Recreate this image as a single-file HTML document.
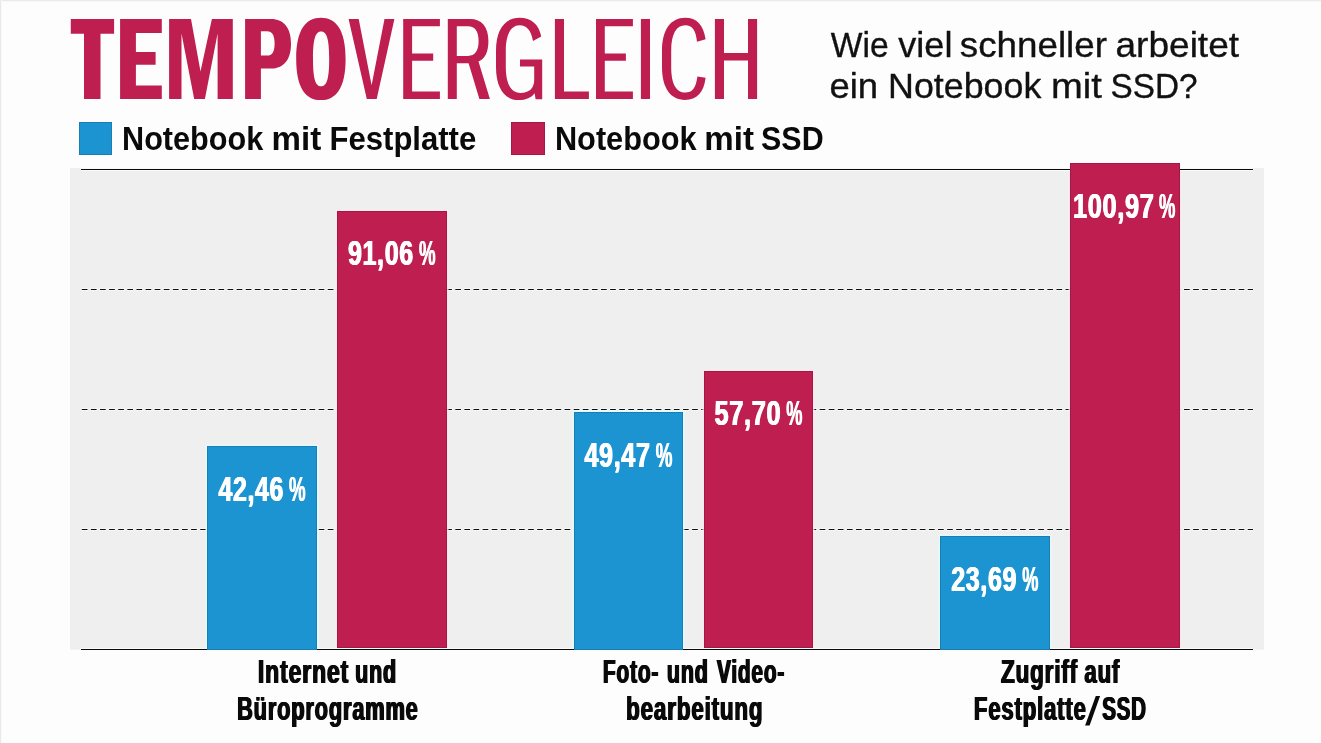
<!DOCTYPE html>
<html><head><meta charset="utf-8"><title>Tempovergleich</title>
<style>
html,body{margin:0;padding:0;background:#fdfdfd;}
body{width:1321px;height:743px;overflow:hidden;font-family:"Liberation Sans",sans-serif;}
svg{display:block;will-change:transform;font-family:"Liberation Sans",sans-serif;}
text{white-space:pre;}
</style></head><body>
<h1 style="position:absolute;left:-9999px;top:0;margin:0">TEMPOVERGLEICH</h1>
<svg width="1321" height="743" viewBox="0 0 1321 743">
<rect x="0" y="0" width="1321" height="743" fill="#fdfdfd"/>
<rect x="0" y="0" width="1321" height="1" fill="#ebebeb"/>
<rect x="0" y="1" width="1321" height="1" fill="#f7f7f7"/>
<rect x="0" y="0" width="1" height="743" fill="#e9e9e9"/>
<rect x="1" y="0" width="1" height="743" fill="#f8f8f8"/>
<rect x="70" y="168" width="1194" height="481.6" fill="#efefef"/>
<line x1="81.3" x2="1253" y1="289.5" y2="289.5" stroke="#fbfbfb" stroke-opacity=".75" stroke-width="3" stroke-dasharray="6.7 2.409"/>
<line x1="81.8" x2="1253" y1="289.5" y2="289.5" stroke="#0d0d0d" stroke-width="1" stroke-dasharray="5.7 3.409"/>
<line x1="81.3" x2="1253" y1="409.5" y2="409.5" stroke="#fbfbfb" stroke-opacity=".75" stroke-width="3" stroke-dasharray="6.7 2.409"/>
<line x1="81.8" x2="1253" y1="409.5" y2="409.5" stroke="#0d0d0d" stroke-width="1" stroke-dasharray="5.7 3.409"/>
<line x1="81.3" x2="1253" y1="529.5" y2="529.5" stroke="#fbfbfb" stroke-opacity=".75" stroke-width="3" stroke-dasharray="6.7 2.409"/>
<line x1="81.8" x2="1253" y1="529.5" y2="529.5" stroke="#0d0d0d" stroke-width="1" stroke-dasharray="5.7 3.409"/>
<rect x="205.5" y="444.5" width="113" height="204.5" fill="#e4fbff" fill-opacity=".8"/>
<rect x="335.5" y="209.5" width="113" height="439.5" fill="#fde7f0" fill-opacity=".8"/>
<rect x="572.5" y="410.5" width="112" height="238.5" fill="#e4fbff" fill-opacity=".8"/>
<rect x="702.5" y="369.5" width="112" height="279.5" fill="#fde7f0" fill-opacity=".8"/>
<rect x="938.5" y="534.5" width="113" height="114.5" fill="#e4fbff" fill-opacity=".8"/>
<rect x="1068.5" y="168" width="113" height="481.0" fill="#fde7f0" fill-opacity=".8"/>
<rect x="81" y="168" width="1172" height="3" fill="#fbfbfb" fill-opacity=".85"/>
<rect x="81" y="169" width="1172" height="1" fill="#0a0a0a"/>
<rect x="81" y="648" width="1172" height="2" fill="#fbfbfb" fill-opacity=".85"/>
<rect x="81" y="649" width="1172" height="1" fill="#0a0a0a"/>
<rect x="207" y="446" width="110" height="204" fill="#1c94d2"/>
<rect x="207.5" y="446.5" width="109" height="203" fill="none" stroke="#000" stroke-opacity=".14" stroke-width="1"/>
<rect x="337" y="211" width="110" height="437" fill="#be1e50"/>
<rect x="337.5" y="211.5" width="109" height="436" fill="none" stroke="#000" stroke-opacity=".14" stroke-width="1"/>
<rect x="574" y="412" width="109" height="238" fill="#1c94d2"/>
<rect x="574.5" y="412.5" width="108" height="237" fill="none" stroke="#000" stroke-opacity=".14" stroke-width="1"/>
<rect x="704" y="371" width="109" height="277" fill="#be1e50"/>
<rect x="704.5" y="371.5" width="108" height="276" fill="none" stroke="#000" stroke-opacity=".14" stroke-width="1"/>
<rect x="940" y="536" width="110" height="114" fill="#1c94d2"/>
<rect x="940.5" y="536.5" width="109" height="113" fill="none" stroke="#000" stroke-opacity=".14" stroke-width="1"/>
<rect x="1070" y="163" width="110" height="485" fill="#be1e50"/>
<rect x="1070.5" y="163.5" width="109" height="484" fill="none" stroke="#000" stroke-opacity=".14" stroke-width="1"/>
<text transform="translate(217.93,500.70) scale(0.7274,1)" font-size="34.18" font-weight="bold" fill="#fff" letter-spacing="0.9">42,46</text>
<text transform="translate(218.43,500.70) scale(0.7274,1)" font-size="34.18" font-weight="bold" fill="#fff" letter-spacing="0.9">42,46</text>
<text transform="translate(218.93,500.70) scale(0.7274,1)" font-size="34.18" font-weight="bold" fill="#fff" letter-spacing="0.9">42,46</text>
<text transform="translate(288.46,500.70) scale(0.5368,1)" font-size="34.18" font-weight="normal" fill="#fff">%</text>
<text transform="translate(289.06,500.70) scale(0.5368,1)" font-size="34.18" font-weight="normal" fill="#fff">%</text>
<text transform="translate(289.66,500.70) scale(0.5368,1)" font-size="34.18" font-weight="normal" fill="#fff">%</text>
<text transform="translate(347.42,264.50) scale(0.7332,1)" font-size="34.18" font-weight="bold" fill="#fff" letter-spacing="0.9">91,06</text>
<text transform="translate(347.92,264.50) scale(0.7332,1)" font-size="34.18" font-weight="bold" fill="#fff" letter-spacing="0.9">91,06</text>
<text transform="translate(348.42,264.50) scale(0.7332,1)" font-size="34.18" font-weight="bold" fill="#fff" letter-spacing="0.9">91,06</text>
<text transform="translate(418.46,264.50) scale(0.5368,1)" font-size="34.18" font-weight="normal" fill="#fff">%</text>
<text transform="translate(419.06,264.50) scale(0.5368,1)" font-size="34.18" font-weight="normal" fill="#fff">%</text>
<text transform="translate(419.66,264.50) scale(0.5368,1)" font-size="34.18" font-weight="normal" fill="#fff">%</text>
<text transform="translate(583.92,466.50) scale(0.7342,1)" font-size="34.18" font-weight="bold" fill="#fff" letter-spacing="0.9">49,47</text>
<text transform="translate(584.42,466.50) scale(0.7342,1)" font-size="34.18" font-weight="bold" fill="#fff" letter-spacing="0.9">49,47</text>
<text transform="translate(584.92,466.50) scale(0.7342,1)" font-size="34.18" font-weight="bold" fill="#fff" letter-spacing="0.9">49,47</text>
<text transform="translate(655.25,466.50) scale(0.5404,1)" font-size="34.18" font-weight="normal" fill="#fff">%</text>
<text transform="translate(655.85,466.50) scale(0.5404,1)" font-size="34.18" font-weight="normal" fill="#fff">%</text>
<text transform="translate(656.45,466.50) scale(0.5404,1)" font-size="34.18" font-weight="normal" fill="#fff">%</text>
<text transform="translate(713.94,425.40) scale(0.7424,1)" font-size="34.18" font-weight="bold" fill="#fff" letter-spacing="0.9">57,70</text>
<text transform="translate(714.44,425.40) scale(0.7424,1)" font-size="34.18" font-weight="bold" fill="#fff" letter-spacing="0.9">57,70</text>
<text transform="translate(714.94,425.40) scale(0.7424,1)" font-size="34.18" font-weight="bold" fill="#fff" letter-spacing="0.9">57,70</text>
<text transform="translate(785.77,425.40) scale(0.5225,1)" font-size="34.18" font-weight="normal" fill="#fff">%</text>
<text transform="translate(786.37,425.40) scale(0.5225,1)" font-size="34.18" font-weight="normal" fill="#fff">%</text>
<text transform="translate(786.97,425.40) scale(0.5225,1)" font-size="34.18" font-weight="normal" fill="#fff">%</text>
<text transform="translate(950.72,590.70) scale(0.7320,1)" font-size="34.18" font-weight="bold" fill="#fff" letter-spacing="0.9">23,69</text>
<text transform="translate(951.22,590.70) scale(0.7320,1)" font-size="34.18" font-weight="bold" fill="#fff" letter-spacing="0.9">23,69</text>
<text transform="translate(951.72,590.70) scale(0.7320,1)" font-size="34.18" font-weight="bold" fill="#fff" letter-spacing="0.9">23,69</text>
<text transform="translate(1021.77,590.70) scale(0.5225,1)" font-size="34.18" font-weight="normal" fill="#fff">%</text>
<text transform="translate(1022.37,590.70) scale(0.5225,1)" font-size="34.18" font-weight="normal" fill="#fff">%</text>
<text transform="translate(1022.97,590.70) scale(0.5225,1)" font-size="34.18" font-weight="normal" fill="#fff">%</text>
<text transform="translate(1072.62,217.70) scale(0.7408,1)" font-size="34.18" font-weight="bold" fill="#fff" letter-spacing="0.9">100,97</text>
<text transform="translate(1073.12,217.70) scale(0.7408,1)" font-size="34.18" font-weight="bold" fill="#fff" letter-spacing="0.9">100,97</text>
<text transform="translate(1073.62,217.70) scale(0.7408,1)" font-size="34.18" font-weight="bold" fill="#fff" letter-spacing="0.9">100,97</text>
<text transform="translate(1158.47,217.70) scale(0.5296,1)" font-size="34.18" font-weight="normal" fill="#fff">%</text>
<text transform="translate(1159.07,217.70) scale(0.5296,1)" font-size="34.18" font-weight="normal" fill="#fff">%</text>
<text transform="translate(1159.67,217.70) scale(0.5296,1)" font-size="34.18" font-weight="normal" fill="#fff">%</text>
<text transform="translate(257.25,682.80) scale(0.6753,1)" font-size="34.04" font-weight="bold" fill="#0a0a0a" letter-spacing="1.3">Internet</text>
<text transform="translate(257.90,682.80) scale(0.6753,1)" font-size="34.04" font-weight="bold" fill="#0a0a0a" letter-spacing="1.3">Internet</text>
<text transform="translate(258.55,682.80) scale(0.6753,1)" font-size="34.04" font-weight="bold" fill="#0a0a0a" letter-spacing="1.3">Internet</text>
<text transform="translate(354.46,682.80) scale(0.6317,1)" font-size="34.04" font-weight="bold" fill="#0a0a0a" letter-spacing="1.3">und</text>
<text transform="translate(355.11,682.80) scale(0.6317,1)" font-size="34.04" font-weight="bold" fill="#0a0a0a" letter-spacing="1.3">und</text>
<text transform="translate(355.76,682.80) scale(0.6317,1)" font-size="34.04" font-weight="bold" fill="#0a0a0a" letter-spacing="1.3">und</text>
<text transform="translate(236.43,719.60) scale(0.6403,1)" font-size="34.04" font-weight="bold" fill="#0a0a0a" letter-spacing="1.3">Büroprogramme</text>
<text transform="translate(237.08,719.60) scale(0.6403,1)" font-size="34.04" font-weight="bold" fill="#0a0a0a" letter-spacing="1.3">Büroprogramme</text>
<text transform="translate(237.73,719.60) scale(0.6403,1)" font-size="34.04" font-weight="bold" fill="#0a0a0a" letter-spacing="1.3">Büroprogramme</text>
<text transform="translate(602.19,682.80) scale(0.6159,1)" font-size="34.04" font-weight="bold" fill="#0a0a0a" letter-spacing="1.3">Foto-</text>
<text transform="translate(602.84,682.80) scale(0.6159,1)" font-size="34.04" font-weight="bold" fill="#0a0a0a" letter-spacing="1.3">Foto-</text>
<text transform="translate(603.49,682.80) scale(0.6159,1)" font-size="34.04" font-weight="bold" fill="#0a0a0a" letter-spacing="1.3">Foto-</text>
<text transform="translate(666.26,682.80) scale(0.6300,1)" font-size="34.04" font-weight="bold" fill="#0a0a0a" letter-spacing="1.3">und</text>
<text transform="translate(666.91,682.80) scale(0.6300,1)" font-size="34.04" font-weight="bold" fill="#0a0a0a" letter-spacing="1.3">und</text>
<text transform="translate(667.56,682.80) scale(0.6300,1)" font-size="34.04" font-weight="bold" fill="#0a0a0a" letter-spacing="1.3">und</text>
<text transform="translate(716.34,682.80) scale(0.6124,1)" font-size="34.04" font-weight="bold" fill="#0a0a0a" letter-spacing="1.3">Video-</text>
<text transform="translate(716.99,682.80) scale(0.6124,1)" font-size="34.04" font-weight="bold" fill="#0a0a0a" letter-spacing="1.3">Video-</text>
<text transform="translate(717.64,682.80) scale(0.6124,1)" font-size="34.04" font-weight="bold" fill="#0a0a0a" letter-spacing="1.3">Video-</text>
<text transform="translate(625.55,719.60) scale(0.6565,1)" font-size="34.04" font-weight="bold" fill="#0a0a0a" letter-spacing="1.3">bearbeitung</text>
<text transform="translate(626.20,719.60) scale(0.6565,1)" font-size="34.04" font-weight="bold" fill="#0a0a0a" letter-spacing="1.3">bearbeitung</text>
<text transform="translate(626.85,719.60) scale(0.6565,1)" font-size="34.04" font-weight="bold" fill="#0a0a0a" letter-spacing="1.3">bearbeitung</text>
<text transform="translate(1000.33,682.80) scale(0.6597,1)" font-size="34.04" font-weight="bold" fill="#0a0a0a" letter-spacing="1.3">Zugriff</text>
<text transform="translate(1000.98,682.80) scale(0.6597,1)" font-size="34.04" font-weight="bold" fill="#0a0a0a" letter-spacing="1.3">Zugriff</text>
<text transform="translate(1001.63,682.80) scale(0.6597,1)" font-size="34.04" font-weight="bold" fill="#0a0a0a" letter-spacing="1.3">Zugriff</text>
<text transform="translate(1083.74,682.80) scale(0.6506,1)" font-size="34.04" font-weight="bold" fill="#0a0a0a" letter-spacing="1.3">auf</text>
<text transform="translate(1084.39,682.80) scale(0.6506,1)" font-size="34.04" font-weight="bold" fill="#0a0a0a" letter-spacing="1.3">auf</text>
<text transform="translate(1085.04,682.80) scale(0.6506,1)" font-size="34.04" font-weight="bold" fill="#0a0a0a" letter-spacing="1.3">auf</text>
<text transform="translate(973.31,719.60) scale(0.6490,1)" font-size="34.04" font-weight="bold" fill="#0a0a0a" letter-spacing="1.3">Festplatte</text>
<text transform="translate(973.96,719.60) scale(0.6490,1)" font-size="34.04" font-weight="bold" fill="#0a0a0a" letter-spacing="1.3">Festplatte</text>
<text transform="translate(974.61,719.60) scale(0.6490,1)" font-size="34.04" font-weight="bold" fill="#0a0a0a" letter-spacing="1.3">Festplatte</text>
<text transform="translate(1101.58,719.60) scale(0.6029,1)" font-size="34.04" font-weight="bold" fill="#0a0a0a" letter-spacing="1.3">SSD</text>
<text transform="translate(1102.23,719.60) scale(0.6029,1)" font-size="34.04" font-weight="bold" fill="#0a0a0a" letter-spacing="1.3">SSD</text>
<text transform="translate(1102.88,719.60) scale(0.6029,1)" font-size="34.04" font-weight="bold" fill="#0a0a0a" letter-spacing="1.3">SSD</text>
<path fill="#0a0a0a" d="M1085.1,725.6 L1089.6,725.6 L1100.1,695.9 L1095.8,695.9Z"/>
<rect x="79" y="122" width="33" height="33" fill="#1c94d2"/>
<rect x="79.5" y="122.5" width="32" height="32" fill="none" stroke="#000" stroke-opacity=".14" stroke-width="1"/>
<rect x="511" y="122" width="34" height="33" fill="#be1e50"/>
<rect x="511.5" y="122.5" width="33" height="32" fill="none" stroke="#000" stroke-opacity=".14" stroke-width="1"/>
<text transform="translate(122.03,149.60) scale(0.9037,1)" font-size="33.89" font-weight="bold" fill="#0a0a0a">Notebook</text>
<text transform="translate(271.55,149.60) scale(0.9770,1)" font-size="33.89" font-weight="bold" fill="#0a0a0a">mit</text>
<text transform="translate(329.50,149.60) scale(0.9173,1)" font-size="33.89" font-weight="bold" fill="#0a0a0a">Festplatte</text>
<text transform="translate(554.93,149.60) scale(0.9069,1)" font-size="33.89" font-weight="bold" fill="#0a0a0a">Notebook</text>
<text transform="translate(704.25,149.60) scale(0.9770,1)" font-size="33.89" font-weight="bold" fill="#0a0a0a">mit</text>
<text transform="translate(761.09,149.60) scale(0.8978,1)" font-size="33.89" font-weight="bold" fill="#0a0a0a">SSD</text>
<text transform="translate(830.81,56.60) scale(0.9555,1)" font-size="35.20" font-weight="normal" fill="#111" stroke="#111" stroke-width="0.35" stroke-linejoin="round">Wie</text>
<text transform="translate(898.29,56.60) scale(1.0259,1)" font-size="35.20" font-weight="normal" fill="#111" stroke="#111" stroke-width="0.35" stroke-linejoin="round">viel</text>
<text transform="translate(959.86,56.60) scale(1.0442,1)" font-size="35.20" font-weight="normal" fill="#111" stroke="#111" stroke-width="0.35" stroke-linejoin="round">schneller</text>
<text transform="translate(1115.50,56.60) scale(1.0529,1)" font-size="35.20" font-weight="normal" fill="#111" stroke="#111" stroke-width="0.35" stroke-linejoin="round">arbeitet</text>
<text transform="translate(829.43,98.30) scale(1.0355,1)" font-size="35.20" font-weight="normal" fill="#111" stroke="#111" stroke-width="0.35" stroke-linejoin="round">ein</text>
<text transform="translate(888.02,98.30) scale(1.0176,1)" font-size="35.20" font-weight="normal" fill="#111" stroke="#111" stroke-width="0.35" stroke-linejoin="round">Notebook</text>
<text transform="translate(1050.90,98.30) scale(1.0833,1)" font-size="35.20" font-weight="normal" fill="#111" stroke="#111" stroke-width="0.35" stroke-linejoin="round">mit</text>
<text transform="translate(1110.58,98.30) scale(0.9460,1)" font-size="35.20" font-weight="normal" fill="#111" stroke="#111" stroke-width="0.35" stroke-linejoin="round">SSD?</text>
<g role="img" aria-label="TEMPOVERGLEICH"><title>TEMPOVERGLEICH</title>
<path fill="#be1e50" fill-rule="evenodd" d="M70.80,19.00 L114.10,19.00 L114.10,33.80 L100.50,33.80 L100.50,99.00 L84.00,99.00 L84.00,33.80 L70.80,33.80Z"/>
<path fill="#be1e50" fill-rule="evenodd" d="M120.10,19.00 L161.80,19.00 L161.80,33.10 L135.90,33.10 L135.90,51.90 L155.60,51.90 L155.60,64.70 L135.90,64.70 L135.90,85.60 L161.80,85.60 L161.80,99.00 L120.10,99.00Z"/>
<path fill="#be1e50" fill-rule="evenodd" d="M169.10,19.00 L191.00,19.00 L200.50,71.50 L211.90,19.00 L232.80,19.00 L232.80,99.00 L217.60,99.00 L217.60,33.50 L204.90,99.00 L194.20,99.00 L181.50,33.50 L181.50,99.00 L169.10,99.00Z"/>
<path fill="#be1e50" fill-rule="evenodd" d="M245.1,19.0 L271,19.0 C284,19.0 291,28 291,43.7 C291,59.5 284,68.5 271,68.5 L260.9,68.5 L260.9,99.0 L245.1,99.0Z M260.9,31.2 L260.9,55.6 L267,55.6 C272.3,55.6 274.6,51.5 274.6,43.4 C274.6,35.3 272.3,31.2 267,31.2Z"/>
<path fill="#be1e50" fill-rule="evenodd" d="M320.90,17.70 C335.72,17.70 345.60,29.24 345.60,58.90 C345.60,88.56 335.72,100.10 320.90,100.10 C306.08,100.10 296.20,88.56 296.20,58.90 C296.20,29.24 306.08,17.70 320.90,17.70Z M321.10,31.60 C316.08,31.60 313.00,37.06 313.00,58.90 C313.00,80.74 316.08,86.20 321.10,86.20 C326.12,86.20 329.20,80.74 329.20,58.90 C329.20,37.06 326.12,31.60 321.10,31.60Z"/>
<path fill="#be1e50" fill-rule="evenodd" d="M348.60,19.00 L358.70,19.00 L371.60,85.30 L384.50,19.00 L394.40,19.00 L376.70,99.00 L366.80,99.00Z"/>
<path fill="#be1e50" fill-rule="evenodd" d="M403.20,19.00 L439.90,19.00 L439.90,26.20 L412.10,26.20 L412.10,53.50 L433.20,53.50 L433.20,60.70 L412.10,60.70 L412.10,91.50 L439.90,91.50 L439.90,99.00 L403.20,99.00Z"/>
<path fill="#be1e50" fill-rule="evenodd" d="M447.8,19.0 L470,19.0 C482,19.0 488.4,27 488.4,41 C488.4,52 485,59 478.5,61.5 L489.9,99.0 L479.4,99.0 L468.6,63.2 L456.8,63.2 L456.8,99.0 L447.8,99.0Z M456.8,26.3 L456.8,55.9 L468,55.9 C475,55.9 478.6,51 478.6,41.1 C478.6,31.2 475,26.3 468,26.3Z"/>
<path fill="#be1e50" fill-rule="evenodd" d="M542.2,99.3 L542.2,59.4 L520,59.4 L520,66.6 L534.2,66.6 L534.2,80 C534.2,88.5 529,92.9 520.5,92.9 C511.5,92.9 505.8,84.5 505.8,67 L505.8,51 C505.8,33.5 511.5,25.3 519.5,25.3 C527,25.3 531,30.5 533,41 L541.2,36.4 C539,24.5 531.5,17.7 519.5,17.7 C505,17.7 496,29.5 496,51 L496,67 C496,88.5 505,100.1 518.5,100.1 C526,100.1 531.5,97.5 534.6,93.2 L535.6,99.3Z"/>
<path fill="#be1e50" fill-rule="evenodd" d="M554.90,19.00 L564.00,19.00 L564.00,91.50 L588.90,91.50 L588.90,99.00 L554.90,99.00Z"/>
<path fill="#be1e50" fill-rule="evenodd" d="M596.00,19.00 L632.90,19.00 L632.90,26.20 L604.80,26.20 L604.80,53.50 L625.90,53.50 L625.90,60.70 L604.80,60.70 L604.80,91.50 L632.90,91.50 L632.90,99.00 L596.00,99.00Z"/>
<path fill="#be1e50" fill-rule="evenodd" d="M640.90,19.00 L650.00,19.00 L650.00,99.00 L640.90,99.00Z"/>
<path fill="#be1e50" fill-rule="evenodd" d="M705.6,39.2 C703.5,25 697,17.7 685,17.7 C671,17.7 662,29.5 662,51 L662,67 C662,88.5 671,99.9 685,99.9 C697,99.9 703.8,92.5 705.6,77.8 L697.4,76.5 C696,87.5 692.5,92.6 685.3,92.6 C676.5,92.6 671.2,84.5 671.2,67 L671.2,51 C671.2,33.5 676.5,25.3 685.3,25.3 C692.5,25.3 695.8,30.5 697,41.7Z"/>
<path fill="#be1e50" fill-rule="evenodd" d="M714.90,19.00 L724.00,19.00 L724.00,53.10 L748.00,53.10 L748.00,19.00 L757.10,19.00 L757.10,99.00 L748.00,99.00 L748.00,60.40 L724.00,60.40 L724.00,99.00 L714.90,99.00Z"/>
</g>
</svg>
</body></html>
